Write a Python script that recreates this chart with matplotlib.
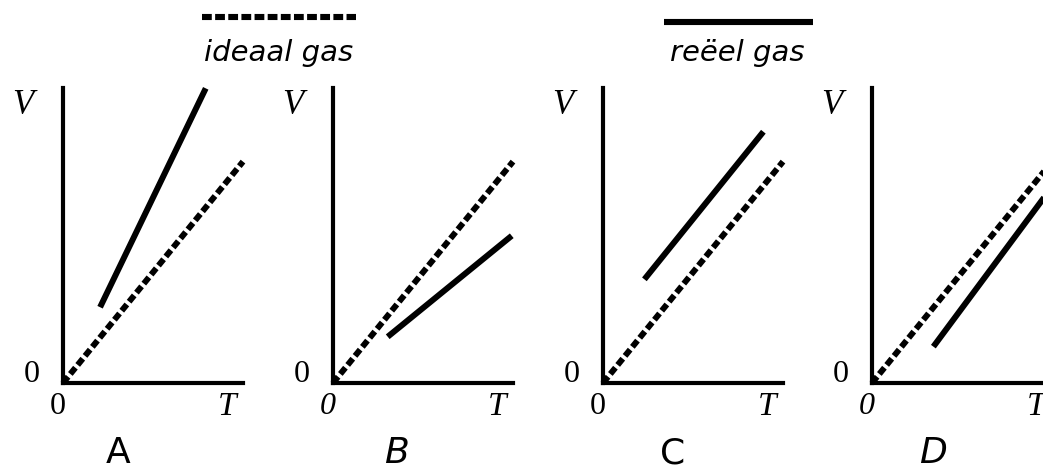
import matplotlib.pyplot as plt

# grafiek-letters en assen-oorsprong (pixels) van de vier panelen
panels = ["A", "B", "C", "D"]
panel_italic = [False, True, False, True]
zero_italic = [False, True, False, True]

# ideaal gas: rechte lijn door de oorsprong (zelfde in alle panelen)
T_ideal = [0, 10]
V_ideal = [0, 12.3]

T_real = [[2.06, 7.93], [3.04, 9.93], [2.30, 8.91], [3.41, 10.0]]
V_real = [[4.21, 16.37], [2.57, 8.18], [5.76, 13.96], [2.02, 10.9]]

W, H = 1043, 468
origins = [63, 333, 603, 872]
label_dx = [55, 63, 70, 61]

fig = plt.figure(figsize=(W / 100, H / 100), dpi=100)

serif = "Liberation Serif"
sans = "DejaVu Sans"

for i, ox in enumerate(origins):
    ax = fig.add_axes([ox / W, (H - 383) / H, 180 / W, 295 / H])
    ax.set_xlim(0, 10)
    ax.set_ylim(0, 295 / 18)
    for s in ["top", "right"]:
        ax.spines[s].set_visible(False)
    for s in ["left", "bottom"]:
        ax.spines[s].set_linewidth(3)
    ax.set_xticks([])
    ax.set_yticks([])
    ax.patch.set_alpha(0)

    ax.plot(T_ideal, V_ideal, color="black", lw=4.3, dashes=(1.35, 0.6),
            clip_on=False)
    ax.plot(T_real[i], V_real[i], color="black", lw=4.3,
            solid_capstyle="butt", clip_on=False)

    ax.text(-40 / 18, (383 - 105) / 18, "V", fontsize=25, family=serif,
            style="italic", ha="center", va="center", clip_on=False)
    ax.text(-31 / 18, 9 / 18, "0", fontsize=23, family=serif,
            ha="center", va="center", clip_on=False)
    ax.text(-5 / 18, -23 / 18, "0", fontsize=23, family=serif,
            style="italic" if zero_italic[i] else "normal",
            ha="center", va="center", clip_on=False)
    ax.text(164 / 18, -24 / 18, "T", fontsize=24, family=serif,
            style="italic", ha="center", va="center", clip_on=False)
    ax.text(label_dx[i] / 18, -70 / 18, panels[i], fontsize=26, family=sans,
            style="italic" if panel_italic[i] else "normal",
            ha="center", va="center", clip_on=False)

# sleutel bovenaan
kax = fig.add_axes([0, 0, 1, 1], zorder=-1)
kax.set_xlim(0, W)
kax.set_ylim(H, 0)
kax.axis("off")
kax.plot([202, 356], [17, 17], color="black", lw=4.4, dashes=(1.6, 0.55))
kax.plot([664, 813], [22, 22], color="black", lw=4.4, solid_capstyle="butt")
kax.text(279, 53, "ideaal gas", fontsize=21, family=sans, style="italic",
         ha="center", va="center")
kax.text(737, 53, "reëel gas", fontsize=21, family=sans, style="italic",
         ha="center", va="center")

fig.savefig("out.png", dpi=100)
